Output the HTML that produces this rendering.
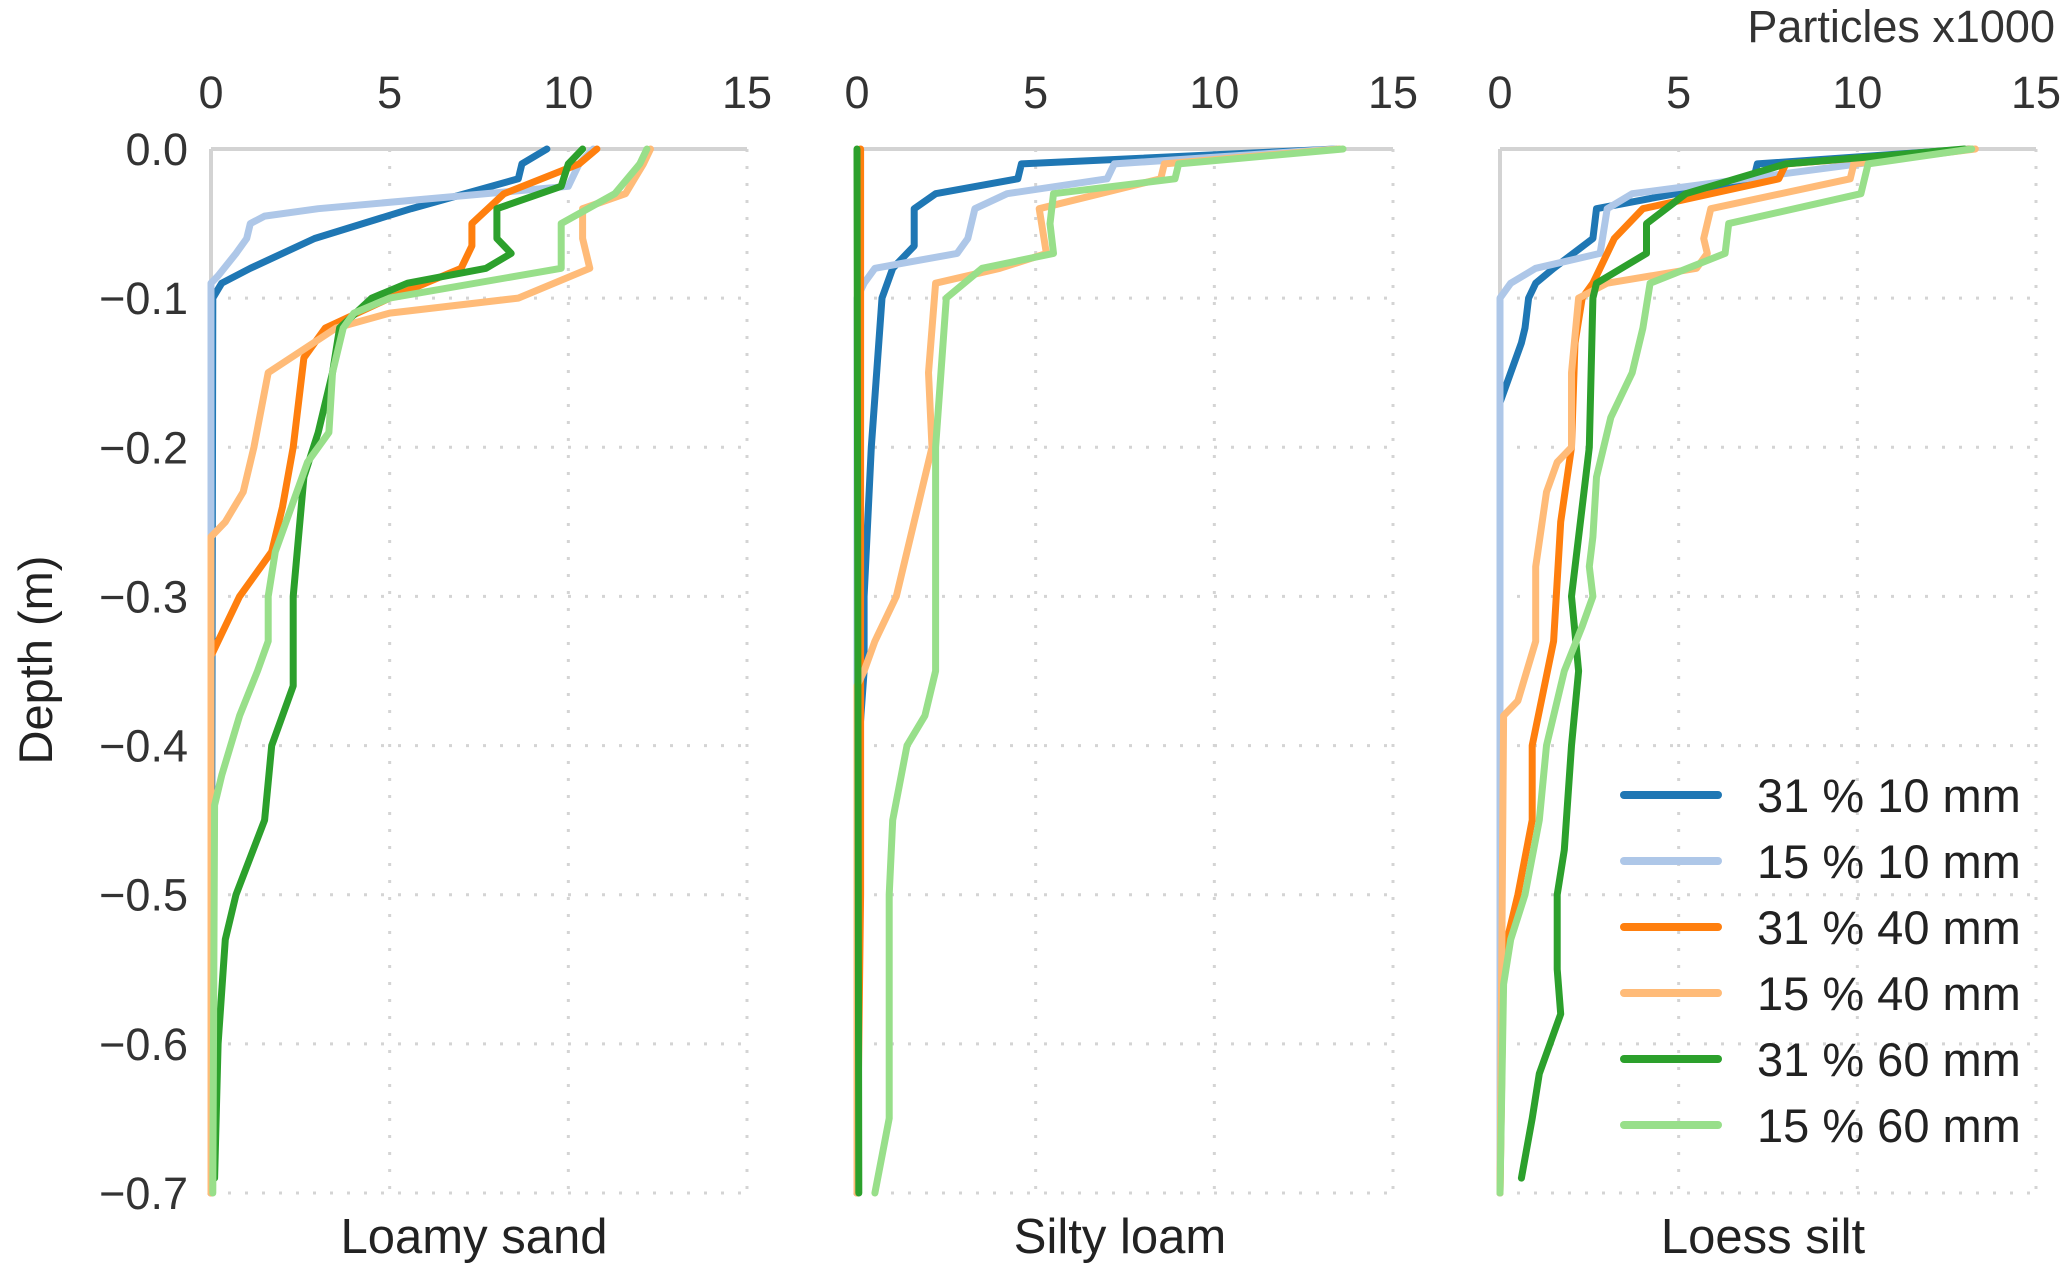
<!DOCTYPE html>
<html><head><meta charset="utf-8"><style>
html,body{margin:0;padding:0;background:#fff;}
svg{display:block;font-family:"Liberation Sans",sans-serif;}
</style></head><body>
<svg id="chart" width="2067" height="1277" viewBox="0 0 2067 1277" xmlns="http://www.w3.org/2000/svg"></svg>
<script>
const panelTitles = ["Loamy sand", "Silty loam", "Loess silt"];
const seriesNames = ["31 % 10 mm", "15 % 10 mm", "31 % 40 mm", "15 % 40 mm", "31 % 60 mm", "15 % 60 mm"];
const xTicks = [0, 5, 10, 15];
const yTicks = [0, -0.1, -0.2, -0.3, -0.4, -0.5, -0.6, -0.7];
const yTickLabels = ["0.0", "\u22120.1", "\u22120.2", "\u22120.3", "\u22120.4", "\u22120.5", "\u22120.6", "\u22120.7"];
// each series: [depth, particles x1000]
const loamySand = [
 [[0,9.4],[-0.01,8.7],[-0.02,8.6],[-0.04,5.6],[-0.06,2.9],[-0.08,1.1],[-0.09,0.3],[-0.1,0.05],[-0.7,0]],
 [[0,10.7],[-0.01,10.3],[-0.025,10.0],[-0.04,3.0],[-0.045,1.5],[-0.05,1.1],[-0.06,1.0],[-0.07,0.7],[-0.085,0.2],[-0.09,0],[-0.7,0]],
 [[0,10.8],[-0.01,10.3],[-0.03,8.2],[-0.05,7.3],[-0.065,7.3],[-0.08,7.0],[-0.1,5.0],[-0.12,3.2],[-0.14,2.6],[-0.2,2.3],[-0.24,2.0],[-0.27,1.7],[-0.3,0.8],[-0.33,0.2],[-0.34,0],[-0.7,0]],
 [[0,12.3],[-0.01,12.1],[-0.03,11.6],[-0.04,10.4],[-0.06,10.4],[-0.08,10.6],[-0.1,8.6],[-0.11,5.0],[-0.12,3.5],[-0.15,1.6],[-0.2,1.2],[-0.23,0.9],[-0.25,0.4],[-0.26,0],[-0.7,0]],
 [[0,10.4],[-0.01,10.0],[-0.025,9.8],[-0.04,8.0],[-0.06,8.0],[-0.07,8.4],[-0.08,7.7],[-0.09,5.5],[-0.1,4.5],[-0.12,3.6],[-0.15,3.4],[-0.19,3.0],[-0.22,2.6],[-0.3,2.3],[-0.36,2.3],[-0.4,1.7],[-0.45,1.5],[-0.5,0.7],[-0.53,0.4],[-0.6,0.2],[-0.69,0.1]],
 [[0,12.2],[-0.01,12.0],[-0.03,11.3],[-0.05,9.8],[-0.08,9.8],[-0.1,5.0],[-0.11,4.0],[-0.12,3.7],[-0.15,3.4],[-0.19,3.3],[-0.21,2.7],[-0.27,1.8],[-0.3,1.6],[-0.33,1.6],[-0.35,1.3],[-0.38,0.8],[-0.42,0.3],[-0.44,0.1],[-0.7,0.05]]
];
const siltyLoam = [
 [[0,13.4],[-0.01,4.6],[-0.02,4.5],[-0.03,2.2],[-0.04,1.6],[-0.065,1.6],[-0.08,1.0],[-0.1,0.7],[-0.2,0.4],[-0.3,0.2],[-0.35,0.2],[-0.4,0.05],[-0.7,0]],
 [[0,13.4],[-0.01,7.2],[-0.02,7.0],[-0.03,4.2],[-0.04,3.3],[-0.06,3.1],[-0.07,2.8],[-0.08,0.5],[-0.09,0.2],[-0.1,0],[-0.7,0]],
 [[0,0.1],[-0.5,0.1],[-0.7,0]],
 [[0,13.5],[-0.01,8.6],[-0.02,8.5],[-0.04,5.1],[-0.07,5.3],[-0.08,4.0],[-0.09,2.2],[-0.15,2.0],[-0.2,2.1],[-0.27,1.4],[-0.3,1.1],[-0.33,0.5],[-0.35,0.2],[-0.36,0],[-0.7,0]],
 [[0,0],[-0.7,0.05]],
 [[0,13.6],[-0.01,9.0],[-0.02,8.9],[-0.03,5.5],[-0.05,5.4],[-0.07,5.5],[-0.08,3.5],[-0.1,2.5],[-0.2,2.2],[-0.3,2.2],[-0.35,2.2],[-0.38,1.9],[-0.4,1.4],[-0.45,1.0],[-0.5,0.9],[-0.6,0.9],[-0.65,0.9],[-0.7,0.5]]
];
const loessSilt = [
 [[0,13.2],[-0.01,7.2],[-0.02,7.1],[-0.04,2.7],[-0.06,2.6],[-0.08,1.5],[-0.09,1.0],[-0.1,0.8],[-0.12,0.7],[-0.13,0.6],[-0.15,0.3],[-0.17,0],[-0.7,0]],
 [[0,13.2],[-0.03,3.7],[-0.04,3.0],[-0.07,2.8],[-0.08,1.0],[-0.09,0.3],[-0.1,0],[-0.7,0]],
 [[0,13.2],[-0.01,8.0],[-0.02,7.8],[-0.04,4.0],[-0.06,3.2],[-0.08,2.8],[-0.09,2.6],[-0.1,2.3],[-0.13,2.1],[-0.2,2.0],[-0.25,1.7],[-0.33,1.5],[-0.4,0.9],[-0.45,0.9],[-0.5,0.5],[-0.54,0.1],[-0.7,0]],
 [[0,13.3],[-0.01,9.9],[-0.02,9.8],[-0.04,5.9],[-0.06,5.7],[-0.07,5.8],[-0.08,5.5],[-0.09,3.0],[-0.1,2.2],[-0.15,2.0],[-0.2,2.0],[-0.21,1.6],[-0.23,1.3],[-0.28,1.0],[-0.33,1.0],[-0.37,0.5],[-0.38,0.1],[-0.7,0]],
 [[0,13.0],[-0.01,8.0],[-0.03,5.2],[-0.05,4.1],[-0.07,4.1],[-0.09,2.7],[-0.1,2.6],[-0.2,2.5],[-0.3,2.0],[-0.35,2.2],[-0.4,2.0],[-0.47,1.8],[-0.5,1.6],[-0.55,1.6],[-0.58,1.7],[-0.62,1.1],[-0.65,0.9],[-0.69,0.6]],
 [[0,13.2],[-0.01,10.3],[-0.03,10.1],[-0.05,6.4],[-0.07,6.3],[-0.09,4.2],[-0.12,4.0],[-0.15,3.7],[-0.18,3.1],[-0.22,2.7],[-0.26,2.6],[-0.28,2.5],[-0.3,2.6],[-0.32,2.3],[-0.35,1.8],[-0.4,1.3],[-0.45,1.1],[-0.5,0.7],[-0.53,0.3],[-0.56,0.1],[-0.7,0]]
];
const panelData = [loamySand, siltyLoam, loessSilt];

const colors = ["#1f77b4","#aec7e8","#ff7f0e","#ffbb78","#2ca02c","#98df8a"];
const NS = "http://www.w3.org/2000/svg";
const svg = document.getElementById("chart");
const panelLeft = [211, 857, 1500];
const panelW = 536, plotTop = 149, plotBottom = 1193;
function mk(tag, attrs, parent){const e=document.createElementNS(NS,tag);for(const k in attrs)e.setAttribute(k,attrs[k]);(parent||svg).appendChild(e);return e;}
const yScale = v => plotTop + (0 - v) / 0.7 * (plotBottom - plotTop);

panelData.forEach((series, p) => {
  const x0 = panelLeft[p];
  const xScale = v => x0 + v / 15 * panelW;
  const g = mk("g", {});
  
  
  xTicks.forEach(t => {
    if (t === 0) return;
    const l = mk("line",{x1:xScale(t),x2:xScale(t),y1:plotTop,y2:plotBottom,stroke:"#d4d4d4","stroke-width":3,"stroke-dasharray":"3 14"},g);
    
    
  });
  yTicks.forEach(t => {
    if (t === 0) return;
    const l = mk("line",{x1:x0,x2:x0+panelW,y1:yScale(t),y2:yScale(t),stroke:"#d4d4d4","stroke-width":3,"stroke-dasharray":"3 14"},g);
    
    
  });
  const s1 = mk("line",{x1:x0,x2:x0+panelW,y1:plotTop,y2:plotTop,stroke:"#d3d3d3","stroke-width":4},g);
  
  
  const s2 = mk("line",{x1:x0,x2:x0,y1:plotTop,y2:plotBottom,stroke:"#d3d3d3","stroke-width":4},g);
  
  
  xTicks.forEach(t => {
    const tx = mk("text",{x:xScale(t),y:108,"text-anchor":"middle","font-size":45,fill:"#333"},g);
    tx.textContent = t;
    
    
  });
  if (p === 0) {
    yTicks.forEach((t,i) => {
      const tx = mk("text",{x:188,y:yScale(t)+16,"text-anchor":"end","font-size":45,fill:"#333"},g);
      tx.textContent = yTickLabels[i];
      
      
    });
  }
  series.forEach((pts, si) => {
    const d = pts.map((pt,i)=>(i?"L":"M")+xScale(pt[1]).toFixed(1)+" "+yScale(pt[0]).toFixed(1)).join(" ");
    const path = mk("path",{d:d,fill:"none",stroke:colors[si],"stroke-width":7,"stroke-linejoin":"round","stroke-linecap":"round"},g);
    
    
  });
  const title = mk("text",{x:x0+panelW/2 - 5,y:1253,"text-anchor":"middle","font-size":49,fill:"#222"},g);
  title.textContent = panelTitles[p];
  
  
});

const yt = mk("text",{x:0,y:0,"text-anchor":"middle","font-size":47,fill:"#222",transform:"translate(52,660) rotate(-90)"});
yt.textContent = "Depth (m)";


const xt = mk("text",{x:2055,y:42,"text-anchor":"end","font-size":45,fill:"#333"});
xt.textContent = "Particles x1000";



const legend = mk("g",{});


seriesNames.forEach((n,i)=>{
  const y = 795 + i*66;
  const l = mk("line",{x1:1624,x2:1718,y1:y,y2:y,stroke:colors[i],"stroke-width":8,"stroke-linecap":"round"},legend);
  
  
  const t = mk("text",{x:1757,y:y+17,"font-size":47,fill:"#222"},legend);
  t.textContent = n;
  
  
});
</script>
</body></html>
